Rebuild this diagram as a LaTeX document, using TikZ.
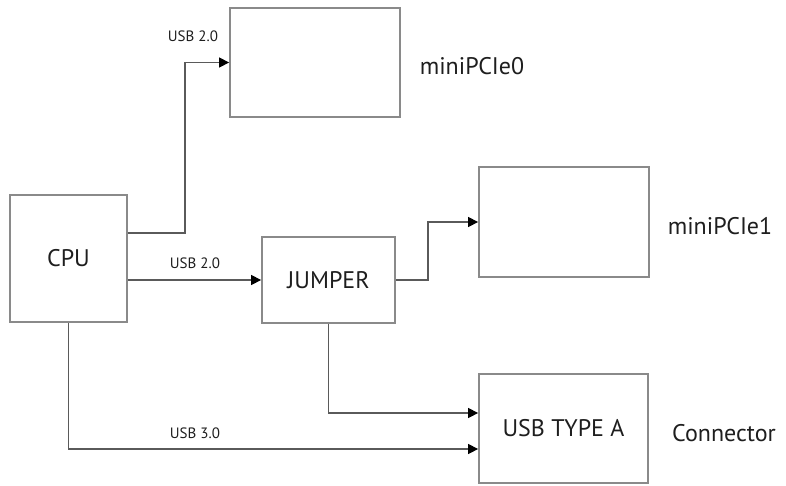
\documentclass[tikz,border=0pt]{standalone}
\usepackage{fontspec}
\setmainfont{PT Sans}
\usetikzlibrary{arrows.meta}
\definecolor{boxline}{HTML}{8A8A8A}
\definecolor{wire}{HTML}{5A5A5A}
\definecolor{txt}{HTML}{1E1E1E}
\begin{document}
\begin{tikzpicture}[x=1pt,y=-1pt,
  blk/.style={draw=boxline,line width=1.8pt,fill=white,inner sep=0pt,text=txt,font=\fontsize{24}{28}\selectfont},
  arr/.style={draw=wire,line width=1.3pt,-{Triangle[length=10pt,width=10pt,color=black]}},
  small/.style={text=txt,font=\fontsize{15}{17}\selectfont,inner sep=0pt},
  lbl/.style={text=txt,font=\fontsize{24}{28}\selectfont,inner sep=0pt}]
\useasboundingbox (0,0) rectangle (786,485);
\node[blk,minimum width=117pt,minimum height=127pt] (cpu) at (68.5,258.5) {CPU};
\node[blk,minimum width=170pt,minimum height=109pt] (m0) at (315,62.5) {};
\node[blk,minimum width=133pt,minimum height=86pt] (jmp) at (328.5,280) {JUMPER};
\node[blk,minimum width=170pt,minimum height=110pt] (m1) at (564,222) {};
\node[blk,minimum width=169pt,minimum height=109pt] (usb) at (563.5,428.5) {USB TYPE A};
\node[lbl] (t0) at (472,66) {miniPCIe0};
\node[lbl] (t1) at (720,226) {miniPCIe1};
\node[lbl] (t2) at (724,433) {Connector};
\node[small] (u1) at (193,36) {USB 2.0};
\node[small] (u2) at (195,263) {USB 2.0};
\node[small] (u3) at (195,433) {USB 3.0};
\draw[arr] ([yshift=25.5pt]cpu.east) -- ++(57,0) |- (m0.west);
\draw[arr] (jmp.west -| cpu.east) -- (jmp.west);
\draw[arr] (jmp.east) -- ++(32,0) |- (m1.west);
\draw[arr] (jmp.south) |- ([yshift=15.5pt]usb.west);
\draw[arr] (cpu.south) |- ([yshift=-20.5pt]usb.west);
\end{tikzpicture}
\end{document}
